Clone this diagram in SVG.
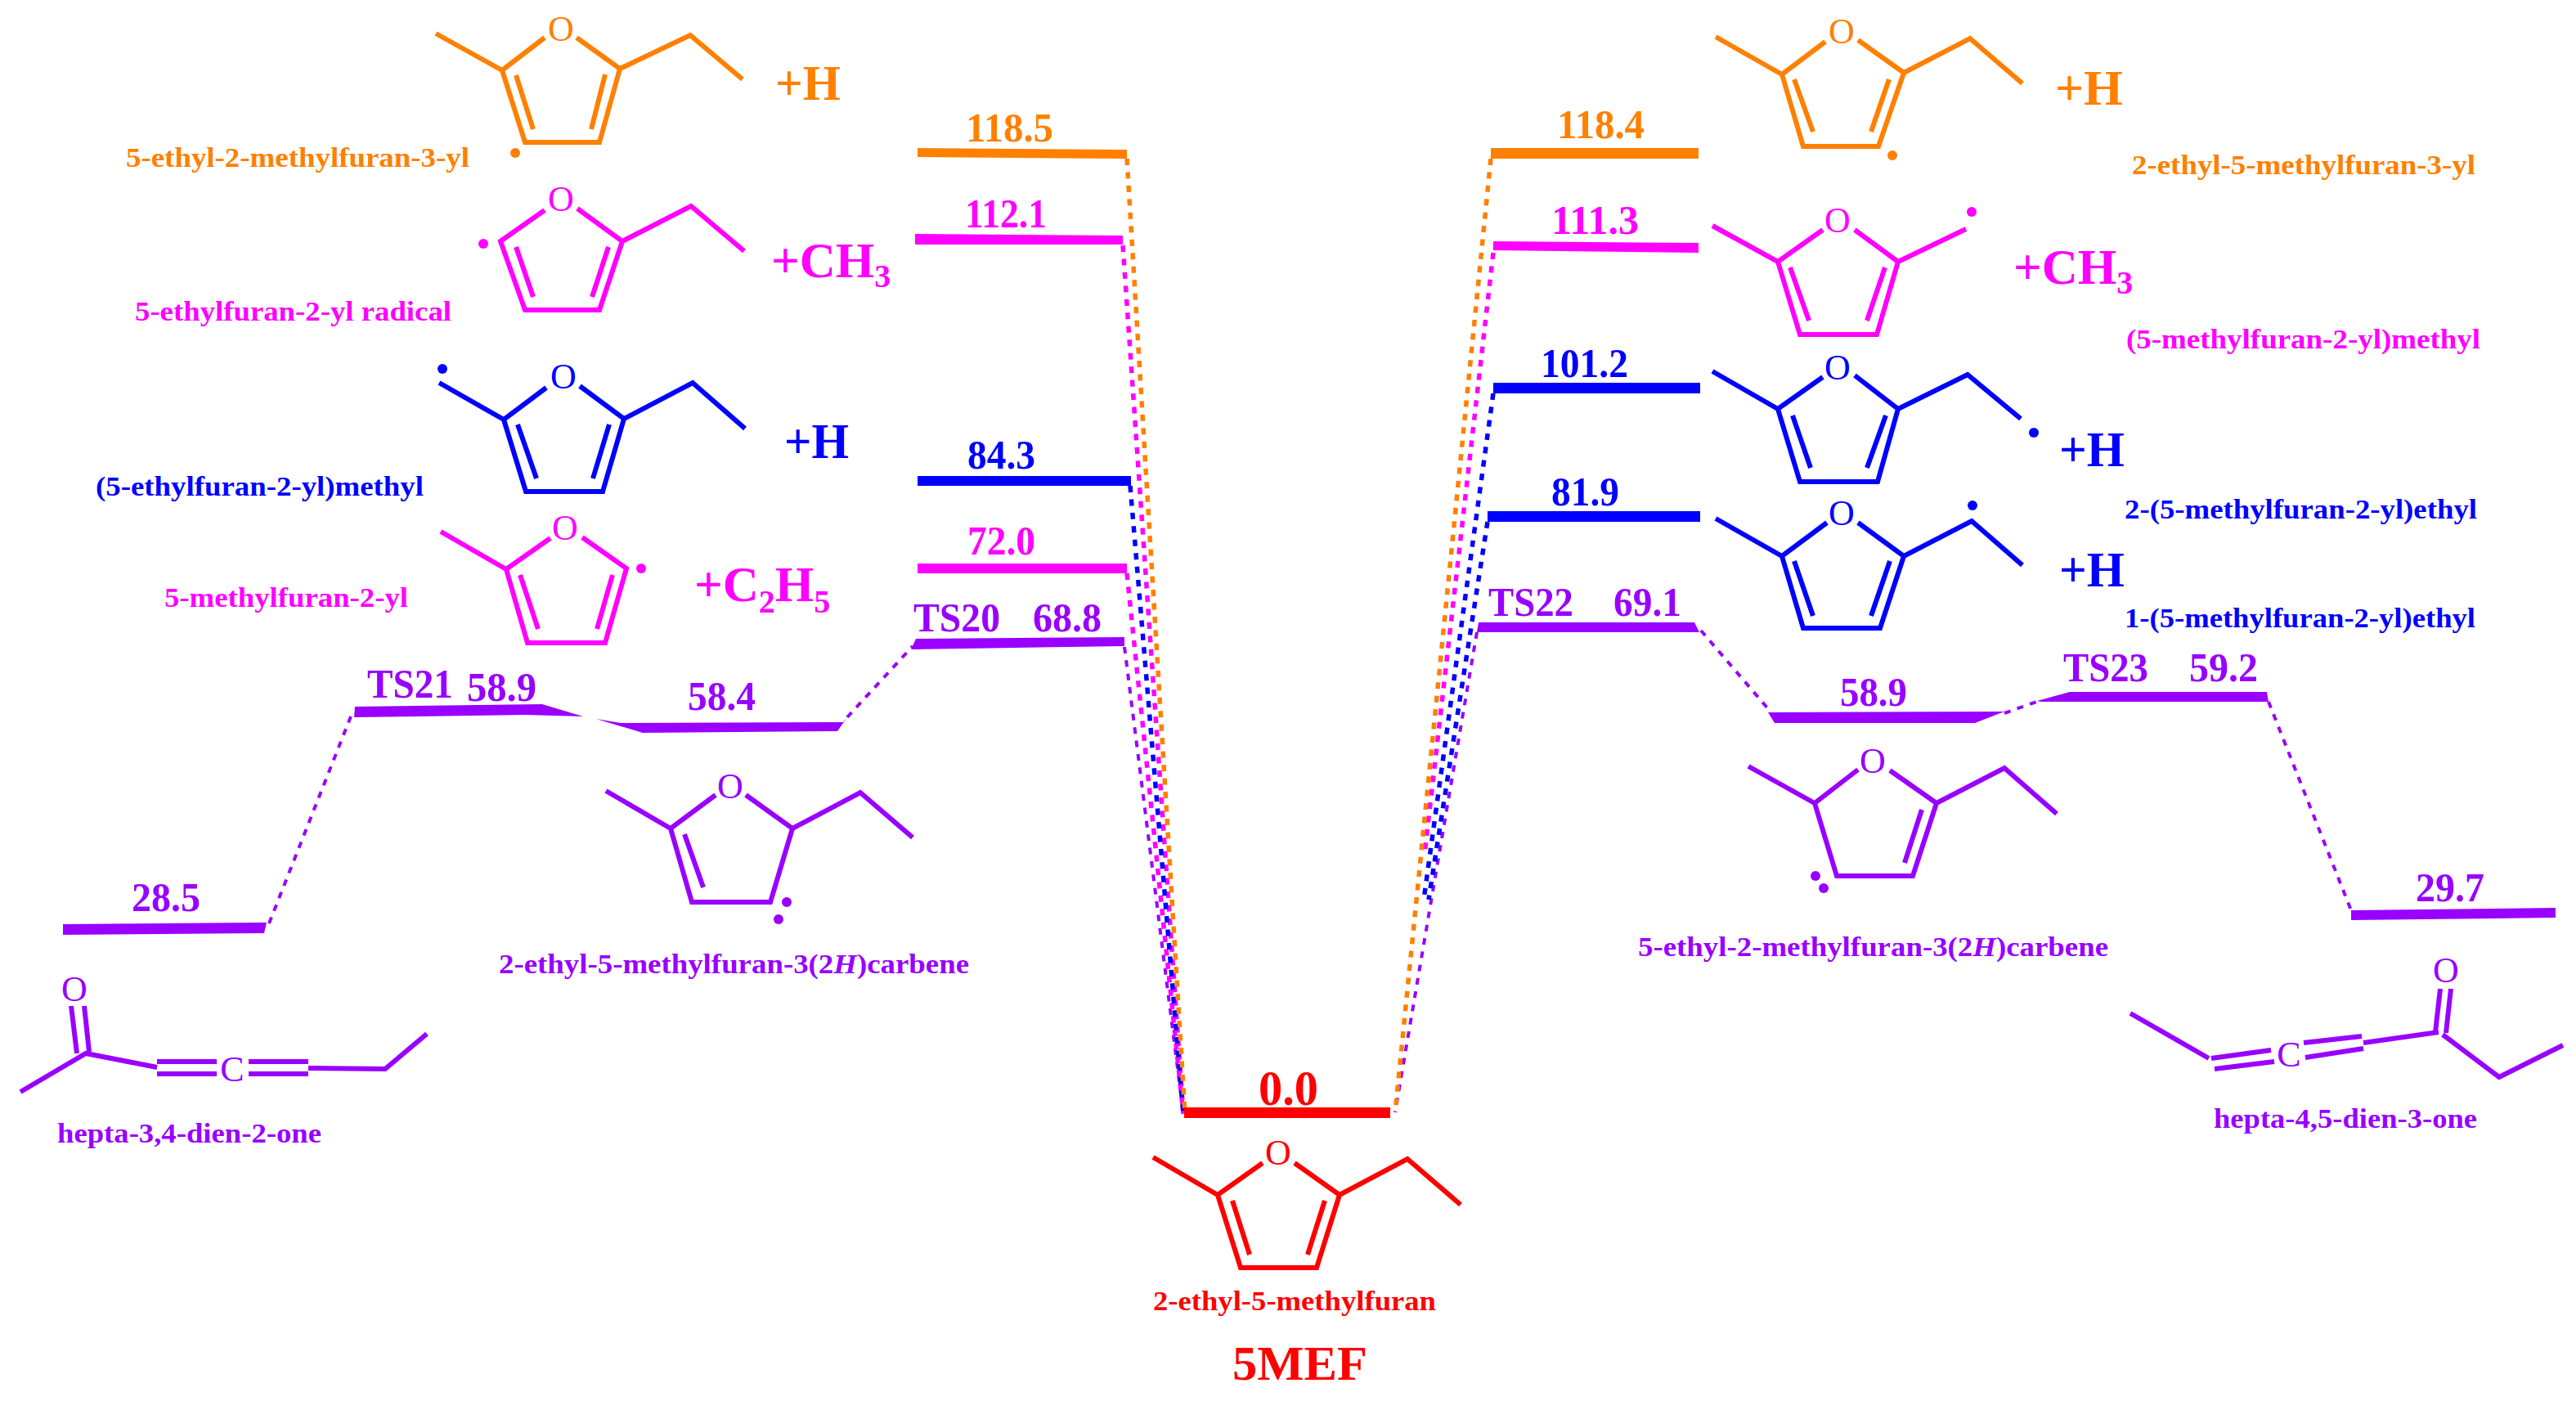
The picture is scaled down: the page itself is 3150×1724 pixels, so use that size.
<svg xmlns="http://www.w3.org/2000/svg" width="3150" height="1724" viewBox="0 0 3150 1724">
<style>
text{font-family:"Liberation Serif","Times New Roman",serif;font-weight:bold}
.o{color:#FF8000}.m{color:#FF00FF}.b{color:#0000FF}.p{color:#9900FF}.r{color:#FF0000}
.bond{fill:none;stroke:currentColor;stroke-width:6;stroke-linejoin:miter}
.bar,.dot,.lab{fill:currentColor}
.name{font-size:34px}
.val{font-size:50px}
.plus{font-size:61px}
.sub{font-size:40px}
.atom{font-size:44px;font-weight:normal;text-anchor:middle}
.dash{fill:none;stroke-width:5.5;stroke-dasharray:8 8.5}
.thin{stroke-width:4}
</style>
<rect width="3150" height="1724" fill="#FFFFFF"/>
<g id="connectors">
<path class="dash thin" stroke="#9900FF" d="M429 876L329 1129M1036 877L1116 790M2080 771L2165 870M2451 872L2496 856M2774 858L2875 1113M1806 773L1706 1360M1375 791L1447 1362"/>
<path class="dash" stroke="#FF00FF" d="M1373 300L1447 1362M1378 701L1447 1362M1826 309L1742 1044"/>
<path class="dash" stroke="#0000FF" d="M1382 594L1447 1362M1826 481L1741 1100M1819 638L1747 1100"/>
<path class="dash" stroke="#FF8000" d="M1378 194L1449 1362M1823 194L1706 1360"/>
</g>
<g id="level-118-5" class="o"><polygon class="bar" points="1122,181 1378,183 1378,194 1122,192"/><text class="val lab" x="1181" y="173" textLength="107" lengthAdjust="spacingAndGlyphs">118.5</text></g>
<g id="level-112-1" class="m"><polygon class="bar" points="1119,286 1373,288 1373,299 1119,299"/><text class="val lab" x="1180" y="278" textLength="100" lengthAdjust="spacingAndGlyphs">112.1</text></g>
<g id="level-84-3" class="b"><rect class="bar" x="1122" y="582" width="261" height="12"/><text class="val lab" x="1183" y="573" textLength="83" lengthAdjust="spacingAndGlyphs">84.3</text></g>
<g id="level-72-0" class="m"><rect class="bar" x="1122" y="689" width="256" height="12"/><text class="val lab" x="1183" y="678" textLength="83" lengthAdjust="spacingAndGlyphs">72.0</text></g>
<g id="level-TS20" class="p"><polygon class="bar" points="1120,781 1375,779 1375,790 1114,794"/><text class="val lab" x="1117" y="772" textLength="106" lengthAdjust="spacingAndGlyphs">TS20</text><text class="val lab" x="1263" y="772" textLength="84" lengthAdjust="spacingAndGlyphs">68.8</text></g>
<g id="level-TS21" class="p"><polygon class="bar" points="434,864 663,861 713,876 643,874 433,877"/><text class="val lab" x="449" y="853" textLength="105" lengthAdjust="spacingAndGlyphs">TS21</text><text class="val lab" x="571" y="857" textLength="85" lengthAdjust="spacingAndGlyphs">58.9</text></g>
<g id="level-58-4" class="p"><polygon class="bar" points="729,879 759,884 1031,883 1036,877 1024,894 786,896"/><text class="val lab" x="841" y="868" textLength="83" lengthAdjust="spacingAndGlyphs">58.4</text></g>
<g id="level-28-5" class="p"><polygon class="bar" points="77,1130 326,1128 323,1141 77,1143"/><text class="val lab" x="161" y="1114" textLength="84" lengthAdjust="spacingAndGlyphs">28.5</text></g>
<g id="level-0" class="r"><rect class="bar" x="1448" y="1354" width="252" height="13"/><text class="lab" style="font-size:62px" x="1539" y="1351" textLength="73" lengthAdjust="spacingAndGlyphs">0.0</text></g>
<g id="level-118-4" class="o"><rect class="bar" x="1823" y="181" width="254" height="13"/><text class="val lab" x="1904" y="169" textLength="107" lengthAdjust="spacingAndGlyphs">118.4</text></g>
<g id="level-111-3" class="m"><polygon class="bar" points="1826,295 2077,297 2077,309 1826,306"/><text class="val lab" x="1897" y="286" textLength="107" lengthAdjust="spacingAndGlyphs">111.3</text></g>
<g id="level-101-2" class="b"><rect class="bar" x="1826" y="468" width="253" height="13"/><text class="val lab" x="1884" y="461" textLength="107" lengthAdjust="spacingAndGlyphs">101.2</text></g>
<g id="level-81-9" class="b"><rect class="bar" x="1819" y="625" width="260" height="13"/><text class="val lab" x="1897" y="618" textLength="83" lengthAdjust="spacingAndGlyphs">81.9</text></g>
<g id="level-TS22" class="p"><polygon class="bar" points="1808,761 2072,761 2078,773 1806,773"/><text class="val lab" x="1820" y="753" textLength="104" lengthAdjust="spacingAndGlyphs">TS22</text><text class="val lab" x="1973" y="753" textLength="83" lengthAdjust="spacingAndGlyphs">69.1</text></g>
<g id="level-58-9" class="p"><polygon class="bar" points="2162,871 2451,870 2415,884 2170,884"/><text class="val lab" x="2250" y="863" textLength="82" lengthAdjust="spacingAndGlyphs">58.9</text></g>
<g id="level-TS23" class="p"><polygon class="bar" points="2491,857 2531,846 2772,846 2774,858 2496,858"/><text class="val lab" x="2523" y="833" textLength="104" lengthAdjust="spacingAndGlyphs">TS23</text><text class="val lab" x="2677" y="833" textLength="84" lengthAdjust="spacingAndGlyphs">59.2</text></g>
<g id="level-29-7" class="p"><polygon class="bar" points="2875,1113 3125,1110 3125,1122 2875,1125"/><text class="val lab" x="2954" y="1102" textLength="84" lengthAdjust="spacingAndGlyphs">29.7</text></g>

<g id="mol-5-ethyl-2-methylfuran-3-yl" class="o"><path class="bond" d="M533 41L614 86L666 46M705 46L758 84L844 43L908 97M614 86L642 174H733L758 84M631 92L652 158M740 91L723 158"/><text class="atom lab" x="686" y="50">O</text><circle class="dot" cx="630" cy="187" r="6"/><text class="plus lab" x="948" y="122" textLength="80" lengthAdjust="spacingAndGlyphs">+H</text><text class="name lab" x="154" y="204" textLength="420" lengthAdjust="spacingAndGlyphs">5-ethyl-2-methylfuran-3-yl</text></g>
<g id="mol-5-ethylfuran-2-yl" class="m"><path class="bond" d="M666 257L612 295L642 379H733L761 295L706 255M761 295L845 252L910 307M631 302L652 363M744 302L724 363"/><text class="atom lab" x="686" y="258">O</text><circle class="dot" cx="591" cy="298" r="6"/><text class="plus lab" x="943" y="339">+CH<tspan class="sub" dy="12">3</tspan></text><text class="name lab" x="165" y="392" textLength="387" lengthAdjust="spacingAndGlyphs">5-ethylfuran-2-yl radical</text></g>
<g id="mol-5-ethylfuran-2-yl-methyl" class="b"><path class="bond" d="M537 468L616 513L668 474M709 472L763 512L847 468L911 524M616 513L643 601H737L763 512M633 519L656 585M745 519L725 585"/><text class="atom lab" x="689" y="475">O</text><circle class="dot" cx="541" cy="451" r="6"/><text class="plus lab" x="959" y="560" textLength="79" lengthAdjust="spacingAndGlyphs">+H</text><text class="name lab" x="117" y="606" textLength="401" lengthAdjust="spacingAndGlyphs">(5-ethylfuran-2-yl)methyl</text></g>
<g id="mol-5-methylfuran-2-yl" class="m"><path class="bond" d="M539 650L619 696L673 658M712 657L766 695L740 786H645L619 696M636 703L658 769M749 703L730 769"/><text class="atom lab" x="691" y="660">O</text><circle class="dot" cx="784" cy="695" r="6"/><text class="plus lab" x="849" y="735">+C<tspan class="sub" dy="14">2</tspan><tspan dy="-14">H</tspan><tspan class="sub" dy="14">5</tspan></text><text class="name lab" x="201" y="742" textLength="298" lengthAdjust="spacingAndGlyphs">5-methylfuran-2-yl</text></g>
<g id="mol-2-ethyl-5-methylfuran-3-2H-carbene" class="p"><path class="bond" d="M741 967L820 1013L875 972M912 972L969 1013L1052 969L1116 1024M820 1013L846 1103H942L969 1013M837 1020L860 1085"/><text class="atom lab" x="893" y="976">O</text><circle class="dot" cx="962" cy="1103" r="6"/><circle class="dot" cx="952" cy="1124" r="6"/><text class="name lab" x="610" y="1190" textLength="575" lengthAdjust="spacingAndGlyphs">2-ethyl-5-methylfuran-3(2<tspan font-style="italic">H</tspan>)carbene</text></g>
<g id="mol-hepta-3-4-dien-2-one" class="p"><path class="bond" d="M87 1230L94 1288M103 1230L109 1286M25 1335L105 1288L192 1305M192 1298H265M192 1313H265M304 1298H377M304 1313H377M377 1306L471 1307L522 1264"/><text class="atom lab" x="91" y="1224">O</text><text class="atom lab" x="284" y="1322">C</text><text class="name lab" x="70" y="1397" textLength="323" lengthAdjust="spacingAndGlyphs">hepta-3,4-dien-2-one</text></g>
<g id="mol-2-ethyl-5-methylfuran" class="r"><path class="bond" d="M1410 1415L1489 1461L1544 1422M1583 1422L1638 1461L1721 1417L1786 1473M1489 1461L1517 1550H1610L1638 1461M1507 1468L1528 1534M1620 1468L1599 1534"/><text class="atom lab" x="1563" y="1424">O</text><text class="name lab" x="1410" y="1602" textLength="346" lengthAdjust="spacingAndGlyphs">2-ethyl-5-methylfuran</text><text class="lab" style="font-size:60px" x="1507" y="1687" textLength="165" lengthAdjust="spacingAndGlyphs">5MEF</text></g>
<g id="mol-2-ethyl-5-methylfuran-3-yl" class="o"><path class="bond" d="M2098 45L2179 91L2232 51M2272 49L2328 89L2409 47L2473 102M2179 91L2205 179H2297L2328 89M2194 97L2217 161M2310 97L2288 161"/><text class="atom lab" x="2252" y="53">O</text><circle class="dot" cx="2314" cy="190" r="6"/><text class="plus lab" x="2513" y="128" textLength="83" lengthAdjust="spacingAndGlyphs">+H</text><text class="name lab" x="2607" y="213" textLength="420" lengthAdjust="spacingAndGlyphs">2-ethyl-5-methylfuran-3-yl</text></g>
<g id="mol-5-methylfuran-2-yl-methyl" class="m"><path class="bond" d="M2094 276L2174 320L2229 281M2268 281L2321 320L2404 280M2174 320L2201 409H2295L2321 320M2189 327L2212 392M2305 327L2283 392"/><text class="atom lab" x="2247" y="284">O</text><circle class="dot" cx="2411" cy="259" r="6"/><text class="plus lab" x="2462" y="347">+CH<tspan class="sub" dy="12">3</tspan></text><text class="name lab" x="2600" y="426" textLength="433" lengthAdjust="spacingAndGlyphs">(5-methylfuran-2-yl)methyl</text></g>
<g id="mol-2-5-methylfuran-2-yl-ethyl" class="b"><path class="bond" d="M2094 454L2174 500L2229 461M2268 459L2321 500L2406 458L2471 512M2174 500L2201 589H2296L2321 500M2192 508L2214 572M2306 508L2283 572"/><text class="atom lab" x="2247" y="464">O</text><circle class="dot" cx="2487" cy="529" r="6"/><text class="plus lab" x="2518" y="570" textLength="80" lengthAdjust="spacingAndGlyphs">+H</text><text class="name lab" x="2598" y="634" textLength="431" lengthAdjust="spacingAndGlyphs">2-(5-methylfuran-2-yl)ethyl</text></g>
<g id="mol-1-5-methylfuran-2-yl-ethyl" class="b"><path class="bond" d="M2098 634L2179 680L2234 639M2272 639L2328 680L2411 637L2473 691M2179 680L2205 768H2299L2328 680M2194 686L2217 753M2311 686L2288 753"/><text class="atom lab" x="2252" y="642">O</text><circle class="dot" cx="2412" cy="618" r="6"/><text class="plus lab" x="2518" y="717" textLength="80" lengthAdjust="spacingAndGlyphs">+H</text><text class="name lab" x="2598" y="767" textLength="429" lengthAdjust="spacingAndGlyphs">1-(5-methylfuran-2-yl)ethyl</text></g>
<g id="mol-5-ethyl-2-methylfuran-3-2H-carbene" class="p"><path class="bond" d="M2138 937L2219 982L2272 941M2311 942L2368 982L2451 939L2515 995M2219 982L2246 1071H2339L2368 982M2350 990L2329 1055"/><text class="atom lab" x="2290" y="945">O</text><circle class="dot" cx="2220" cy="1071" r="6"/><circle class="dot" cx="2230" cy="1086" r="6"/><text class="name lab" x="2003" y="1169" textLength="575" lengthAdjust="spacingAndGlyphs">5-ethyl-2-methylfuran-3(2<tspan font-style="italic">H</tspan>)carbene</text></g>
<g id="mol-hepta-4-5-dien-3-one" class="p"><path class="bond" d="M2605 1239L2701 1294M2704 1294L2777 1284M2708 1307L2781 1298M2817 1275L2888 1267M2819 1293L2890 1282M2890 1275L2982 1262M2978 1262L2984 1209M2991 1263L2997 1209M2987 1265L3056 1317L3134 1278"/><text class="atom lab" x="2991" y="1201">O</text><text class="atom lab" x="2799" y="1304">C</text><text class="name lab" x="2707" y="1379" textLength="322" lengthAdjust="spacingAndGlyphs">hepta-4,5-dien-3-one</text></g>
</svg>
